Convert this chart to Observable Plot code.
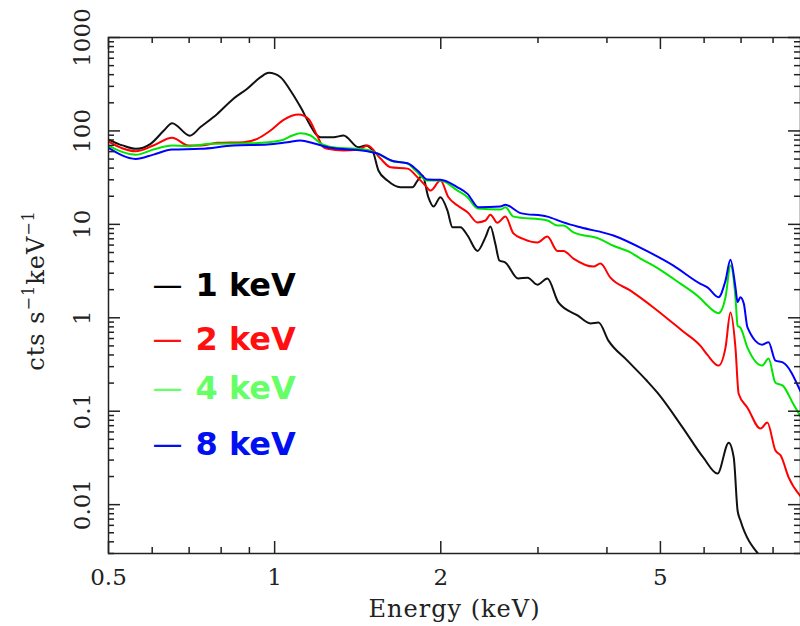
<!DOCTYPE html>
<html>
<head>
<meta charset="utf-8">
<script src="https://cdn.jsdelivr.net/npm/d3@7"></script>
<script src="https://cdn.jsdelivr.net/npm/@observablehq/plot@0.6"></script>
<style>
html, body { margin: 0; padding: 0; background: #fff; overflow: hidden; }
</style>
</head>
<body>
<div id="chart"></div>
<script>
// ---- data ----
const seriesNames = ["1 keV", "2 keV", "4 keV", "8 keV"];
const lineColors = ["#111111", "#ff0000", "#00e600", "#0000ff"];
const legendColors = ["#000000", "#ff1010", "#66ff66", "#0010f0"];

const energy1 = [0.5, 0.53, 0.56, 0.596, 0.63, 0.652, 0.702, 0.734, 0.787, 0.842, 0.892, 0.943, 0.976, 1.025, 1.068, 1.114, 1.161, 1.194, 1.211, 1.278, 1.333, 1.419, 1.461, 1.504, 1.542, 1.601, 1.69, 1.777, 1.815, 1.853, 1.899, 1.94, 1.997, 2.056, 2.1, 2.171, 2.236, 2.331, 2.41, 2.46, 2.511, 2.554, 2.619, 2.761, 2.873, 2.993, 3.12, 3.267, 3.539, 3.734, 3.862, 4.025, 4.357, 4.721, 4.938, 5.503, 5.983, 6.345, 6.65, 6.79, 6.9, 6.98, 7.51];
const counts1 = [80.9, 70, 64.3, 72.8, 101, 121, 89, 110, 152, 221, 283, 376, 419, 376, 271, 180, 114, 89.3, 85.7, 85.7, 89.3, 66.9, 69.8, 61.7, 37.7, 29.4, 24.9, 24.9, 29.4, 33.3, 19.5, 15.5, 19.5, 14.1, 9.3, 9.3, 7.6, 5.2, 7.3, 9.5, 6.2, 4.1, 3.9, 2.63, 2.69, 2.26, 2.63, 1.46, 1.06, 0.87, 0.89, 0.57, 0.348, 0.213, 0.158, 0.0652, 0.0318, 0.0215, 0.0461, 0.0318, 0.0086, 0.0068, 0.003];

const energy2 = [0.5, 0.56, 0.603, 0.652, 0.698, 0.734, 0.787, 0.879, 0.93, 0.983, 1.038, 1.105, 1.151, 1.194, 1.226, 1.246, 1.333, 1.419, 1.473, 1.555, 1.622, 1.741, 1.815, 1.876, 1.916, 1.997, 2.065, 2.145, 2.236, 2.331, 2.41, 2.46, 2.533, 2.619, 2.708, 2.82, 2.993, 3.12, 3.254, 3.336, 3.479, 3.78, 3.893, 4.058, 4.413, 4.856, 5.47, 5.909, 6.084, 6.372, 6.56, 6.697, 6.838, 6.93, 7.19, 7.59, 7.81, 8.08, 8.26, 8.54, 8.97];
const counts2 = [77, 60.6, 69.8, 84.4, 69.8, 69.8, 74.6, 75.7, 82.3, 101, 131.5, 150, 135, 89.3, 66.9, 64.3, 61.7, 63.2, 69.8, 50.6, 40.8, 39.5, 31.9, 26, 23, 29.4, 19.5, 15.9, 13.5, 10.5, 11, 12.7, 10.4, 12.1, 8, 7, 6.4, 7.4, 5.2, 5.2, 4.3, 3.53, 3.8, 2.69, 1.95, 1.29, 0.73, 0.5, 0.4, 0.308, 0.48, 1.14, 0.48, 0.154, 0.109, 0.0652, 0.0755, 0.0379, 0.0335, 0.0195, 0.0123];

const energy3 = [0.5, 0.56, 0.603, 0.652, 0.695, 0.765, 0.904, 1.025, 1.077, 1.114, 1.161, 1.211, 1.278, 1.473, 1.536, 1.622, 1.741, 1.8, 1.891, 1.997, 2.145, 2.236, 2.331, 2.564, 2.619, 2.708, 3.12, 3.254, 3.336, 3.479, 3.877, 4.11, 4.413, 4.6, 4.856, 5.435, 5.909, 6.084, 6.372, 6.56, 6.697, 6.838, 6.9, 6.98, 7.19, 7.65, 7.85, 8.08, 8.33, 8.7, 8.97];
const counts3 = [69.8, 55.5, 63.2, 69.8, 68.6, 72.8, 73.8, 78.9, 89.3, 94.4, 89.3, 73.8, 66.9, 62.7, 57.3, 48.2, 44.8, 37.7, 29.4, 29.4, 23, 19.5, 14.8, 14.4, 15.2, 12.1, 11, 9.7, 9.7, 8.2, 7, 5.9, 5, 4.3, 3.62, 2.32, 1.61, 1.35, 1.12, 1.66, 3.62, 1.66, 0.82, 0.785, 0.48, 0.308, 0.366, 0.202, 0.188, 0.12, 0.088];

const energy4 = [0.5, 0.56, 0.603, 0.652, 0.734, 0.842, 0.971, 1.055, 1.114, 1.175, 1.262, 1.473, 1.536, 1.642, 1.741, 1.815, 1.891, 1.997, 2.145, 2.236, 2.341, 2.564, 2.619, 2.789, 3.12, 3.336, 3.582, 4.11, 4.721, 5.279, 5.909, 6.084, 6.372, 6.56, 6.697, 6.838, 6.9, 6.98, 7.08, 7.19, 7.65, 7.85, 8.08, 8.33, 8.97];
const counts4 = [65.9, 50.2, 55.8, 63.2, 64.3, 69.8, 71.5, 75.7, 78.9, 73.8, 65.9, 60.6, 57.3, 47.4, 45.1, 37.7, 30.2, 30, 24.9, 21.2, 15.2, 15.5, 16.2, 13.2, 12.1, 10.5, 9.3, 7.6, 5.2, 3.62, 2.31, 2.12, 1.66, 2.5, 4.17, 2.12, 1.47, 1.66, 1.42, 0.79, 0.516, 0.547, 0.348, 0.334, 0.163];

const xMajorTicks = [0.5, 1, 2, 5];
const xTickLabels = ["0.5", "1", "2", "5"];
const xMinorTicks = [0.6, 0.7, 0.8, 0.9, 3, 4, 6, 7, 8];
const yMajorTicks = [0.01, 0.1, 1, 10, 100, 1000];
const yTickLabels = ["0.01", "0.1", "1", "10", "100", "1000"];
const xTitle = "Energy (keV)";
const yTitleParts = [["cts s", false], ["\u22121", true], ["keV", false], ["\u22121", true]];

// ---- layout ----
const xDomain = [0.5, 8.97];
const yDomain = [0.003, 1000];
const frameColor = "#222";
const serif = "DejaVu Serif";
const majorLen = 12, minorLen = 6;

const energies = [energy1, energy2, energy3, energy4];
const counts = [counts1, counts2, counts3, counts4];
const table = seriesNames.flatMap((s, i) => energies[i].map((e, j) => ({series: s, energy: e, counts: counts[i][j]})));

const yMinorTicks = [];
for (let k = -3; k <= 2; k++) for (let m = 2; m <= 9; m++) {
  const v = +(m * Math.pow(10, k)).toPrecision(3);
  if (v >= yDomain[0] && v <= yDomain[1]) yMinorTicks.push(v);
}

const legendDy = [248, 302, 351, 407];
const yTitleFull = yTitleParts.map(p => p[0]).join("");

const base = {
  width: 800, height: 626,
  marginTop: 37, marginBottom: 73, marginLeft: 108, marginRight: 0,
  x: {type: "log", domain: xDomain, axis: null},
  y: {type: "log", domain: yDomain, axis: null},
  color: {domain: seriesNames, range: lineColors}
};

// first pass: only to read Plot's scales, so tick lengths can be expressed in data units
const probe = Plot.plot({...base, marks: [Plot.frame()]});
const sx = probe.scale("x"), sy = probe.scale("y");
const xl = Math.min(...sx.range), xr = Math.max(...sx.range);
const yt = Math.min(...sy.range), yb = Math.max(...sy.range);
const tickStyle = {stroke: frameColor, strokeWidth: 1.5};
function xTickRules(values, len) {
  return [
    Plot.ruleX(values, {x: d => d, y1: () => yDomain[0], y2: () => sy.invert(yb - len), ...tickStyle}),
    Plot.ruleX(values, {x: d => d, y1: () => yDomain[1], y2: () => sy.invert(yt + len), ...tickStyle})
  ];
}
function yTickRules(values, len) {
  return [
    Plot.ruleY(values, {y: d => d, x1: () => xDomain[0], x2: () => sx.invert(xl + len), ...tickStyle}),
    Plot.ruleY(values, {y: d => d, x1: () => xDomain[1], x2: () => sx.invert(xr - len), ...tickStyle})
  ];
}

const svg = Plot.plot({
  ...base,
  marks: [
    Plot.line(table, {x: "energy", y: "counts", z: "series", stroke: "series", strokeWidth: 2, curve: "monotone-x", clip: true}),
    Plot.frame({stroke: frameColor, strokeWidth: 1.5}),
    ...xTickRules(xMajorTicks, majorLen),
    ...xTickRules(xMinorTicks, minorLen),
    ...yTickRules(yMajorTicks, majorLen),
    ...yTickRules(yMinorTicks, minorLen),
    Plot.text(xMajorTicks, {x: d => d, frameAnchor: "bottom", dy: 24, text: (d, i) => xTickLabels[i], fontFamily: serif, fontSize: 23, fill: frameColor, textAnchor: "middle", lineAnchor: "middle"}),
    Plot.text(yMajorTicks, {y: d => d, frameAnchor: "left", dx: -26, rotate: -90, text: (d, i) => yTickLabels[i], fontFamily: serif, fontSize: 23, fill: frameColor, textAnchor: "middle", lineAnchor: "middle"}),
    Plot.text([xTitle], {frameAnchor: "bottom", dy: 56, text: d => d, fontFamily: serif, fontSize: 24, fill: frameColor, textAnchor: "middle", lineAnchor: "middle"}),
    Plot.text([yTitleFull], {frameAnchor: "left", dx: -72, dy: -5, rotate: -90, text: d => d, fontFamily: serif, fontSize: 24, fill: frameColor, textAnchor: "middle", lineAnchor: "middle"}),
    ...seriesNames.map((s, i) => Plot.text(["\u2014"], {frameAnchor: "top-left", dx: 44, dy: legendDy[i], text: d => d, fill: legendColors[i], fontFamily: "DejaVu Sans", fontSize: 30, textAnchor: "start", lineAnchor: "middle"})),
    ...seriesNames.map((s, i) => Plot.text([s], {frameAnchor: "top-left", dx: 87, dy: legendDy[i], text: d => d, fill: legendColors[i], fontFamily: "DejaVu Sans", fontWeight: "bold", fontSize: 32, textAnchor: "start", lineAnchor: "middle"}))
  ]
});

// superscripts in the y title
svg.querySelectorAll("text").forEach(t => {
  if (t.textContent === yTitleFull) {
    t.textContent = "";
    t.setAttribute("letter-spacing", "1");
    let prevSup = false;
    for (const [str, sup] of yTitleParts) {
      const ts = document.createElementNS("http://www.w3.org/2000/svg", "tspan");
      ts.textContent = str;
      if (sup) { ts.setAttribute("font-size", "16"); ts.setAttribute("dy", "-10"); }
      else if (prevSup) { ts.setAttribute("dy", "10"); }
      prevSup = sup;
      t.appendChild(ts);
    }
  }
  if (t.textContent === xTitle) t.setAttribute("letter-spacing", "1");
});

document.getElementById("chart").appendChild(svg);
</script>
</body>
</html>
